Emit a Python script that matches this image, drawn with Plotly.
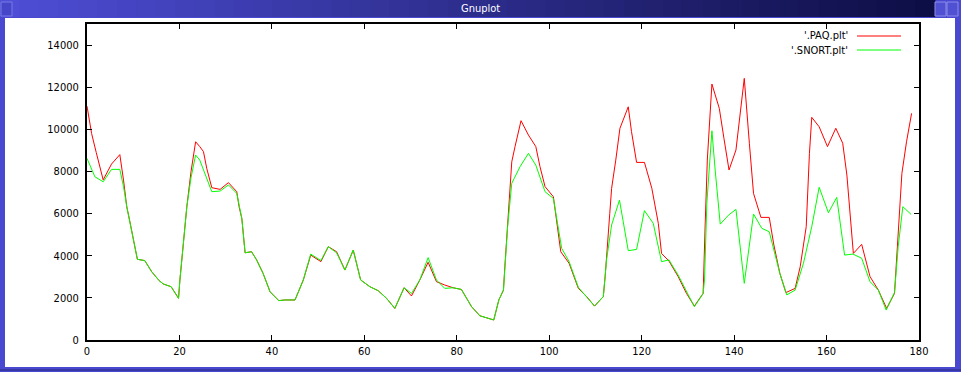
import plotly.graph_objects as go

# ---- data ----
paq_x = [0, 1, 2, 3.5, 5.3, 7.1, 7.9, 8.6, 9.2, 10, 10.9, 12.5, 14, 15.6, 16.5, 18.2, 19.8,
         20.1, 20.6, 21, 21.6, 22.5, 23.5, 24.4, 25.2, 25.9, 27, 28.8, 30.6, 32.4, 32.9, 33.5,
         34.2, 35.6, 36.7, 38.1, 39.6, 41.5, 42.8, 45, 46.8, 48.4, 50.6, 52.2, 54, 55.8, 57.6,
         59.2, 61.2, 63, 64.8, 66.6, 68.6, 70.2, 72, 73.8, 75.6, 77.4, 79.2, 81, 83.2, 85, 88,
         89.1, 90.1, 90.4, 91, 91.5, 91.9, 92.6, 93.9, 95.5, 97.1, 98, 99.1, 100.9, 101.6, 102.5,
         104.3, 106.3, 108.1, 109.8, 111.7, 112.1, 113.1, 113.5, 114.4, 115.3, 117.1, 117.8,
         118.9, 120.6, 122.2, 123.6, 124.3, 125.9, 127.9, 129.7, 131.4, 133.3, 133.7, 134.2,
         135.2, 136.8, 137.8, 138.9, 140.4, 141.4, 142.2, 143.3, 144.2, 145.8, 147.6, 148.6,
         149.9, 151.2, 153.2, 154.3, 155.6, 156.3, 156.8, 158.4, 160.2, 162, 163.5, 164.4,
         165.8, 167.6, 169.4, 171.2, 173, 174.7, 175.2, 176.3, 177.3, 178.4]
paq_y = [11100, 9800, 8900, 7600, 8350, 8800, 7590, 6330, 5700, 4750, 3830, 3770, 3240, 2820,
         2660, 2530, 1980, 2850, 4030, 5220, 6330, 7990, 9410, 9180, 8940, 8150, 7230, 7150,
         7470, 7040, 6330, 5770, 4140, 4190, 3800, 3160, 2290, 1870, 1900, 1900, 2850, 4030,
         3720, 4430, 4190, 3320, 4270, 2850, 2530, 2340, 1980, 1500, 2480, 2090, 2850, 3690,
         2770, 2610, 2480, 2400, 1580, 1150, 950, 1900, 2370, 3480, 5380, 7280, 8460, 9180,
         10410, 9730, 9180, 8230, 7280, 6800, 5700, 4190, 3640, 2450, 2060, 1610, 2060, 3010,
         6010, 7200, 8540, 10050, 11070, 9890, 8430, 8430, 7200, 5540, 4110, 3750, 3010, 2210,
         1610, 2210, 5220, 8540, 12150, 10990, 9570, 8070, 9020, 11070, 12420, 9340, 6960,
         5820, 5820, 4510, 3160, 2250, 2450, 3480, 5380, 8860, 10570, 10120, 9180, 10050,
         9340, 7830, 4110, 4540, 3010, 2370, 1500, 2210, 3960, 7910, 9410, 10760]

snort_x = [0, 1.7, 3.5, 5.3, 7.1, 7.9, 8.6, 9.2, 10, 10.9, 12.5, 14, 15.6, 16.5, 18.2, 19.8,
           20.1, 20.6, 21, 21.6, 22.5, 23.5, 24.4, 25.9, 27, 28.8, 30.6, 32.4, 32.9, 33.5,
           34.2, 35.6, 36.7, 38.1, 39.6, 41.5, 42.8, 45, 46.8, 48.4, 50.6, 52.2, 54, 55.8,
           57.6, 59.2, 61.2, 63, 64.8, 66.6, 68.6, 70.2, 72, 73.8, 75.6, 77.4, 79.2, 81, 83.2,
           85, 88, 89.1, 90.1, 90.4, 91, 91.9, 93.7, 95.5, 97.1, 99.1, 100.9, 102.7, 104.3,
           106.3, 108.1, 109.8, 111.7, 112.4, 113.5, 115.2, 117.1, 118.9, 120.6, 122.5, 124.3,
           125.9, 127.9, 129.7, 131.4, 133.3, 133.6, 134.1, 135.2, 135.9, 137, 138.8, 140.4,
           142.2, 144.2, 146, 147.6, 149.9, 151.4, 153.2, 155, 156.8, 158.4, 160.4, 162.2,
           163.9, 165.7, 167.6, 169.4, 171.2, 172.9, 174.7, 175.5, 176.5, 178.3]
snort_y = [8620, 7750, 7510, 8100, 8100, 7280, 6330, 5700, 4750, 3830, 3770, 3240, 2820, 2660,
           2530, 1980, 2850, 4030, 5220, 6330, 7700, 8780, 8540, 7670, 7040, 7070, 7360, 6960,
           6330, 5770, 4140, 4190, 3800, 3160, 2290, 1870, 1900, 1900, 2850, 4080, 3770, 4430,
           4140, 3320, 4270, 2850, 2530, 2340, 1980, 1500, 2480, 2210, 2850, 3910, 2850, 2450,
           2480, 2400, 1580, 1150, 950, 1900, 2370, 3480, 5380, 7440, 8230, 8860, 8300, 7040,
           6720, 4350, 3720, 2500, 2060, 1610, 2060, 3800, 5460, 6640, 4240, 4300, 6140, 5540,
           3720, 3800, 3080, 2290, 1580, 2210, 2850, 6490, 9930, 8070, 5500, 5930, 6200, 2690,
           5980, 5300, 5140, 3160, 2140, 2370, 3640, 5380, 7250, 6040, 6770, 4030, 4080, 3880,
           2770, 2370, 1420, 2260, 4430, 6330, 5960]

series_names = ["'.PAQ.plt'", "'.SNORT.plt'"]
series_colors = ["#ff0000", "#00ff00"]
x_ticks = [0, 20, 40, 60, 80, 100, 120, 140, 160, 180]
y_ticks = [0, 2000, 4000, 6000, 8000, 10000, 12000, 14000]

W, H = 961, 372
L, R, T, B = 87, 919, 24, 340  # plot area in pixels


def px(x):
    return (x - L) / (R - L)


def py(y):
    return (B - y) / (B - T)


FONT = "Liberation Sans Narrow, DejaVu Sans Condensed, Arial Narrow, Liberation Sans, sans-serif"

fig = go.Figure()
fig.add_trace(go.Scatter(x=paq_x, y=paq_y, mode="lines", name=series_names[0],
                         line=dict(color=series_colors[0], width=1)))
fig.add_trace(go.Scatter(x=snort_x, y=snort_y, mode="lines", name=series_names[1],
                         line=dict(color=series_colors[1], width=1)))

shapes = []
# window frame (blue)
shapes.append(dict(type="rect", xref="paper", yref="paper", layer="below",
                   x0=px(5), x1=px(955), y0=py(367), y1=py(18),
                   fillcolor="white", line=dict(width=0)))
# title bar gradient strips
n = 48
c0 = (78, 78, 214)
c1 = (14, 14, 70)
x_start, x_end = 0, 935
for i in range(n):
    t = i / (n - 1)
    c = tuple(int(c0[k] + (c1[k] - c0[k]) * t) for k in range(3))
    xa = x_start + (x_end - x_start) * i / n
    xb = x_start + (x_end - x_start) * (i + 1) / n + 0.5
    shapes.append(dict(type="rect", xref="paper", yref="paper", layer="below",
                       x0=px(xa), x1=px(xb), y0=py(17), y1=py(0),
                       fillcolor="rgb(%d,%d,%d)" % c, line=dict(width=0)))
# title bar buttons
shapes.append(dict(type="rect", xref="paper", yref="paper", layer="below",
                   x0=px(1), x1=px(12), y0=py(16), y1=py(2),
                   fillcolor="rgb(70,70,200)", line=dict(color="rgb(120,120,230)", width=1)))
for bx in (935, 947):
    shapes.append(dict(type="rect", xref="paper", yref="paper", layer="below",
                       x0=px(bx), x1=px(bx + 11), y0=py(16), y1=py(2),
                       fillcolor="rgb(80,80,210)", line=dict(color="rgb(140,140,235)", width=1)))
# thin dark line under bottom border
shapes.append(dict(type="line", xref="paper", yref="paper", layer="below",
                   x0=px(0), x1=px(961), y0=py(370), y1=py(370),
                   line=dict(color="rgb(40,40,120)", width=1)))

# legend samples (gnuplot style, sample to the right of text)
leg_y = [36, 50]
for i in range(2):
    shapes.append(dict(type="line", xref="paper", yref="paper",
                       x0=px(857), x1=px(901), y0=py(leg_y[i]), y1=py(leg_y[i]),
                       line=dict(color=series_colors[i], width=1)))

annotations = []
for i in range(2):
    annotations.append(dict(xref="paper", yref="paper", x=px(850), y=py(leg_y[i]),
                            xanchor="right", yanchor="middle", showarrow=False,
                            text=series_names[i], font=dict(family=FONT, size=11, color="black")))
annotations.append(dict(xref="paper", yref="paper", x=px(480), y=py(9),
                        xanchor="center", yanchor="middle", showarrow=False,
                        text="Gnuplot", font=dict(family=FONT, size=11, color="white")))

fig.update_layout(
    width=W, height=H,
    margin=dict(l=L, r=W - R, t=T, b=H - B, pad=0),
    paper_bgcolor="rgb(72,72,208)",
    plot_bgcolor="white",
    showlegend=False,
    shapes=shapes,
    annotations=annotations,
    font=dict(family=FONT, size=11, color="black"),
)
fig.update_xaxes(range=[0, 180], tickvals=x_ticks, ticktext=[str(v) for v in x_ticks],
                 ticks="inside", ticklen=5, tickwidth=1, tickcolor="black",
                 showline=True, linewidth=2, linecolor="black", mirror="ticks",
                 showgrid=False, zeroline=False, tickfont=dict(family=FONT, size=11))
fig.update_yaxes(range=[0, 15000], tickvals=y_ticks, ticktext=[str(v) for v in y_ticks],
                 ticks="inside", ticklen=5, tickwidth=1, tickcolor="black",
                 showline=True, linewidth=2, linecolor="black", mirror="ticks",
                 showgrid=False, zeroline=False, tickfont=dict(family=FONT, size=11),
                 ticklabelstandoff=4)

fig.write_html("out.html")
